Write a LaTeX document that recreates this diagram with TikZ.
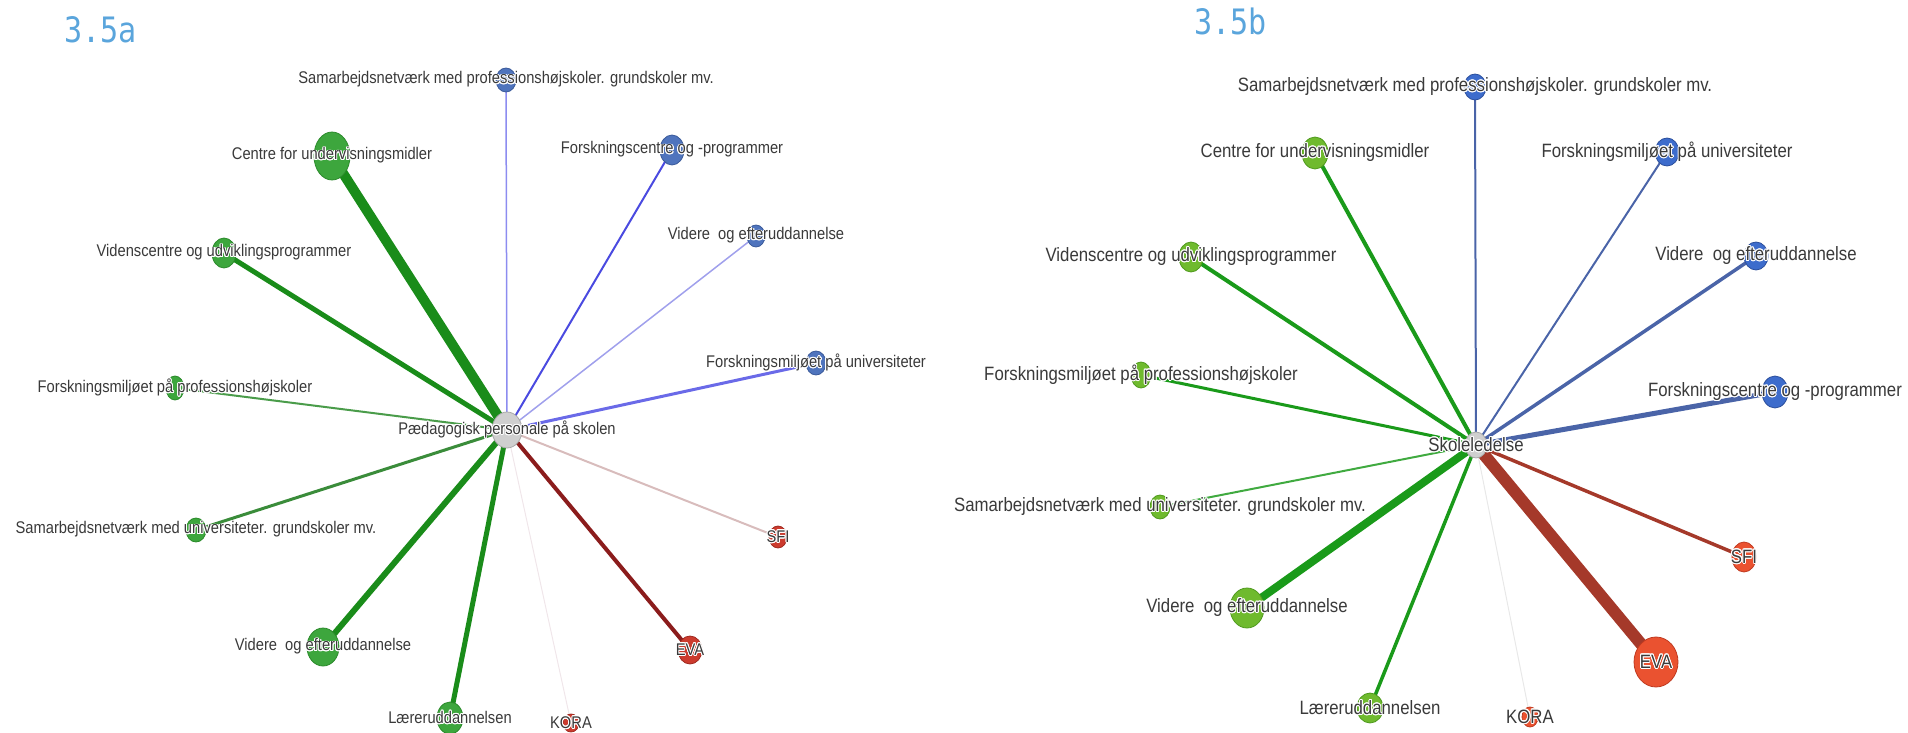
\documentclass[tikz,border=0pt]{standalone}
\usepackage{fontspec}
\usepackage[copies]{contour}
\contourlength{0.9pt}
\contournumber{16}
\newfontfamily\labfont[FakeStretch=0.87]{Liberation Sans}
\newfontfamily\titlefont[FakeStretch=0.86]{DejaVu Sans Mono}
\usetikzlibrary{shapes.geometric}
\pgfdeclarelayer{edges}
\pgfsetlayers{edges,main}

% node colours
\definecolor{titleblue}{HTML}{5AA5DC}
\definecolor{labgray}{HTML}{3A3A3A}
\definecolor{lgfill}{HTML}{3DA63D}\definecolor{lgdraw}{HTML}{2B8A2B}
\definecolor{lbfill}{HTML}{4F74BD}\definecolor{lbdraw}{HTML}{3A5A9A}
\definecolor{lrfill}{HTML}{CC3B2E}\definecolor{lrdraw}{HTML}{A02A20}
\definecolor{rgfill}{HTML}{6FBA2E}\definecolor{rgdraw}{HTML}{4F9A1E}
\definecolor{rbfill}{HTML}{3D6CCC}\definecolor{rbdraw}{HTML}{2C4F9C}
\definecolor{rrfill}{HTML}{EA5230}\definecolor{rrdraw}{HTML}{C03A20}
\definecolor{hubfill}{HTML}{CFCFCF}\definecolor{hubdraw}{HTML}{A8A8A8}
% edge colours
\definecolor{lgE}{HTML}{1A8C1A}
\definecolor{lgEsoft}{HTML}{4A9C4A}
\definecolor{lgEmid}{HTML}{3A8C3A}
\definecolor{lbE}{HTML}{4A4AE0}
\definecolor{lbEmid}{HTML}{6A6AE8}
\definecolor{lbEsoft}{HTML}{8C8CF0}
\definecolor{lbEpale}{HTML}{A0A0EC}
\definecolor{lrE}{HTML}{8B1C1C}
\definecolor{lrEsoft}{HTML}{D8BCBC}
\definecolor{lrEpale}{HTML}{F0E6EA}
\definecolor{rgE}{HTML}{1A9A1A}
\definecolor{rgEsoft}{HTML}{40AA40}
\definecolor{rbE}{HTML}{4A64A8}
\definecolor{rrE}{HTML}{A5392A}
\definecolor{rrEpale}{HTML}{E8E8E8}

% label text with a white halo so it stays legible over nodes and lines
\newcommand{\halo}[1]{\contour{white}{#1}}

\tikzset{
  dot/.style 2 args={ellipse, inner sep=0pt, minimum width=#1pt, minimum height=#2pt, line width=0.8pt},
  lg/.style={fill=lgfill, draw=lgdraw},
  lb/.style={fill=lbfill, draw=lbdraw},
  lr/.style={fill=lrfill, draw=lrdraw},
  rg/.style={fill=rgfill, draw=rgdraw},
  rb/.style={fill=rbfill, draw=rbdraw},
  rr/.style={fill=rrfill, draw=rrdraw},
  hub/.style={fill=hubfill, draw=hubdraw},
  labL/.style={font={\labfont\fontsize{16.9pt}{18pt}\selectfont}, text=labgray, inner sep=0pt},
  labR/.style={font={\labfont\fontsize{19.3pt}{21pt}\selectfont}, text=labgray, inner sep=0pt},
  paneltitle/.style={font={\titlefont\fontsize{35pt}{40pt}\selectfont}, text=titleblue, inner sep=0pt, anchor=base west},
  link/.style={line cap=butt}
}

\begin{document}
\begin{tikzpicture}[x=1pt,y=-1pt]
\useasboundingbox (0,0) rectangle (1908,733);

% panel titles
\node[paneltitle] (ta) at (64,43) {3.5a};
\node[paneltitle] (tb) at (1194,35) {3.5b};

% ---------- left network ----------
\node[dot={30}{36}, hub, label={[labL]center:\halo{Pædagogisk personale på skolen}}] (L) at (507,430) {};
\node[dot={20}{24}, lb, label={[labL]center:\halo{Samarbejdsnetværk med professionshøjskoler. grundskoler mv.}}] (lA) at (506,80) {};
\node[dot={36}{48}, lg, label={[labL]center:\halo{Centre for undervisningsmidler}}] (lB) at (332,156) {};
\node[dot={24}{30}, lb, label={[labL]center:\halo{Forskningscentre og -programmer}}] (lC) at (672,150) {};
\node[dot={18}{22}, lb, label={[labL]center:\halo{Videre\ \ og efteruddannelse}}] (lD) at (756,236) {};
\node[dot={24}{30}, lg, label={[labL]center:\halo{Videnscentre og udviklingsprogrammer}}] (lE) at (224,253) {};
\node[dot={20}{24}, lb, label={[labL]center:\halo{Forskningsmiljøet på universiteter}}] (lF) at (816,363) {};
\node[dot={18}{24}, lg, label={[labL]center:\halo{Forskningsmiljøet på professionshøjskoler}}] (lG) at (175,388) {};
\node[dot={20}{24}, lg, label={[labL]center:\halo{Samarbejdsnetværk med universiteter. grundskoler mv.}}] (lH) at (196,530) {};
\node[dot={18}{22}, lr, label={[labL]center:\halo{SFI}}] (lI) at (778,537) {};
\node[dot={32}{38}, lg, label={[labL]center:\halo{Videre\ \ og efteruddannelse}}] (lJ) at (323,647) {};
\node[dot={24}{28}, lr, label={[labL]center:\halo{EVA}}] (lK) at (690,650) {};
\node[dot={26}{32}, lg, label={[labL]center:\halo{Læreruddannelsen}}] (lL) at (450,718) {};
\node[dot={16}{18}, lr, label={[labL]center:\halo{KORA}}] (lM) at (571,723) {};

% ---------- right network ----------
\node[dot={22}{26}, hub, label={[labR]center:\halo{Skoleledelse}}] (R) at (1476,445) {};
\node[dot={22}{26}, rb, label={[labR]center:\halo{Samarbejdsnetværk med professionshøjskoler. grundskoler mv.}}] (rA) at (1475,87) {};
\node[dot={26}{32}, rg, label={[labR]center:\halo{Centre for undervisningsmidler}}] (rB) at (1315,153) {};
\node[dot={24}{28}, rb, label={[labR]center:\halo{Forskningsmiljøet på universiteter}}] (rC) at (1667,152) {};
\node[dot={24}{30}, rg, label={[labR]center:\halo{Videnscentre og udviklingsprogrammer}}] (rD) at (1191,257) {};
\node[dot={24}{28}, rb, label={[labR]center:\halo{Videre\ \ og efteruddannelse}}] (rE) at (1756,256) {};
\node[dot={20}{26}, rg, label={[labR]center:\halo{Forskningsmiljøet på professionshøjskoler}}] (rF) at (1141,375) {};
\node[dot={26}{32}, rb, label={[labR]center:\halo{Forskningscentre og -programmer}}] (rG) at (1775,392) {};
\node[dot={20}{24}, rg, label={[labR]center:\halo{Samarbejdsnetværk med universiteter. grundskoler mv.}}] (rH) at (1160,507) {};
\node[dot={24}{30}, rr, label={[labR]center:\halo{SFI}}] (rI) at (1744,557) {};
\node[dot={34}{40}, rg, label={[labR]center:\halo{Videre\ \ og efteruddannelse}}] (rJ) at (1247,608) {};
\node[dot={44}{50}, rr, label={[labR]center:\halo{EVA}}] (rK) at (1656,662) {};
\node[dot={26}{30}, rg, label={[labR]center:\halo{Læreruddannelsen}}] (rL) at (1370,708) {};
\node[dot={16}{20}, rr, label={[labR]center:\halo{KORA}}] (rM) at (1530,717) {};

% ---------- connectors, drawn beneath the nodes ----------
\begin{pgfonlayer}{edges}
  \draw[link, draw=lbEsoft, line width=1.5pt] (L.center) -- (lA.center);
  \draw[link, draw=lgE,     line width=10pt]  (L.center) -- (lB.center);
  \draw[link, draw=lbE,     line width=2pt]   (L.center) -- (lC.center);
  \draw[link, draw=lbEpale, line width=1.5pt] (L.center) -- (lD.center);
  \draw[link, draw=lgE,     line width=5pt]   (L.center) -- (lE.center);
  \draw[link, draw=lbEmid,  line width=3pt]   (L.center) -- (lF.center);
  \draw[link, draw=lgEsoft, line width=2pt]   (L.center) -- (lG.center);
  \draw[link, draw=lgEmid,  line width=3pt]   (L.center) -- (lH.center);
  \draw[link, draw=lrEsoft, line width=2pt]   (L.center) -- (lI.center);
  \draw[link, draw=lgE,     line width=6pt]   (L.center) -- (lJ.center);
  \draw[link, draw=lrE,     line width=4pt]   (L.center) -- (lK.center);
  \draw[link, draw=lgE,     line width=5pt]   (L.center) -- (lL.center);
  \draw[link, draw=lrEpale, line width=1pt]   (L.center) -- (lM.center);

  \draw[link, draw=rbE,     line width=2pt]   (R.center) -- (rA.center);
  \draw[link, draw=rgE,     line width=4pt]   (R.center) -- (rB.center);
  \draw[link, draw=rbE,     line width=2pt]   (R.center) -- (rC.center);
  \draw[link, draw=rgE,     line width=4pt]   (R.center) -- (rD.center);
  \draw[link, draw=rbE,     line width=3.5pt] (R.center) -- (rE.center);
  \draw[link, draw=rgE,     line width=3pt]   (R.center) -- (rF.center);
  \draw[link, draw=rbE,     line width=5pt]   (R.center) -- (rG.center);
  \draw[link, draw=rgEsoft, line width=2pt]   (R.center) -- (rH.center);
  \draw[link, draw=rrE,     line width=3.5pt] (R.center) -- (rI.center);
  \draw[link, draw=rgE,     line width=8pt]   (R.center) -- (rJ.center);
  \draw[link, draw=rrE,     line width=12pt]  (R.center) -- (rK.center);
  \draw[link, draw=rgE,     line width=3.5pt] (R.center) -- (rL.center);
  \draw[link, draw=rrEpale, line width=1pt]   (R.center) -- (rM.center);
\end{pgfonlayer}
\end{tikzpicture}
\end{document}
